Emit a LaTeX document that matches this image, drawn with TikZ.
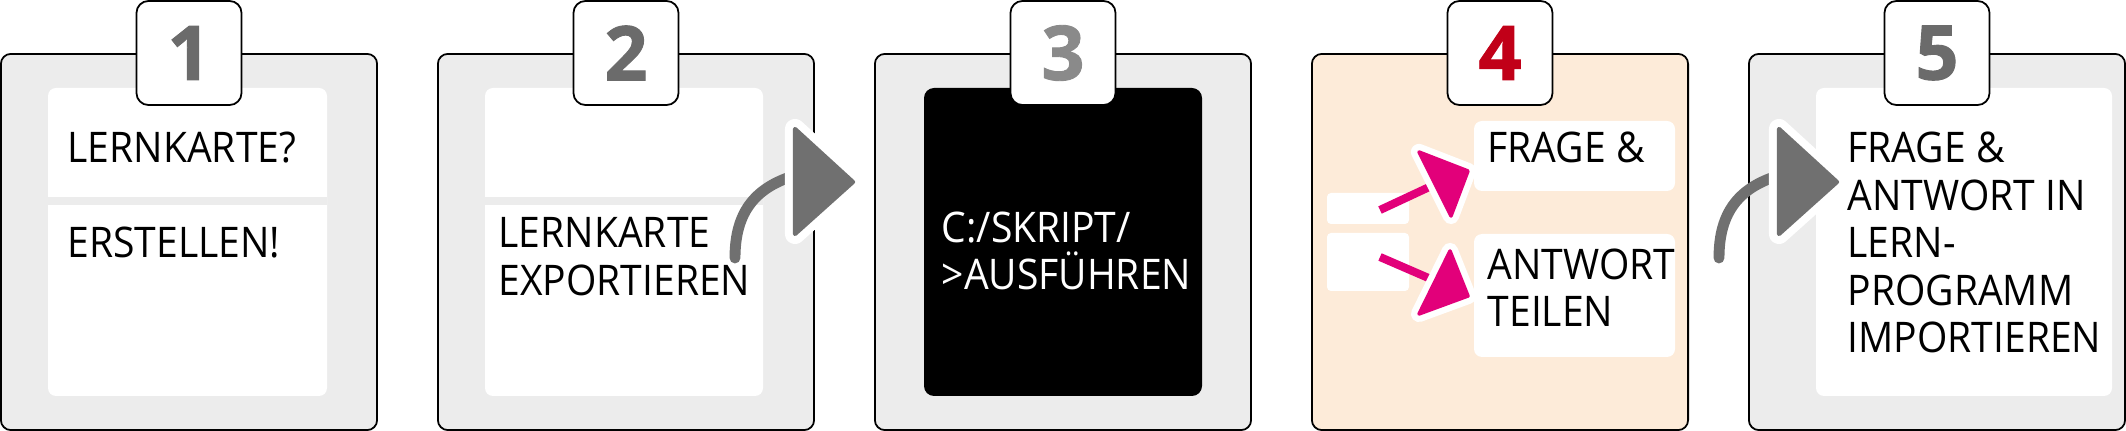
\documentclass[tikz,border=0pt]{standalone}
\usepackage{fontspec}
\setmainfont{Open Sans}[FakeStretch=0.925]
\newfontfamily\numfont{Open Sans}[BoldFeatures={FakeBold=1.2}]
\definecolor{fondo}{HTML}{ECECEC}
\definecolor{melocoton}{HTML}{FDEBD9}
\definecolor{grisnum}{HTML}{6B6B6B}
\definecolor{grisclaro}{HTML}{8A8A8A}
\definecolor{rojonum}{HTML}{C10018}
\definecolor{magenta}{HTML}{E2007A}
\definecolor{flecha}{HTML}{707070}
\tikzset{
  panel/.style={draw=black, line width=0.5pt, rounded corners=0.1cm, minimum width=3.76cm, minimum height=3.76cm},
  ficha/.style={draw=black, fill=white, line width=0.5pt, rounded corners=0.12cm, minimum width=1.05cm, minimum height=1.04cm, inner sep=0, font=\numfont\fontsize{21.5}{21.5}\selectfont\bfseries},
  tarjeta/.style={fill=white, rounded corners=0.08cm},
  texto/.style={font=\fontsize{12}{13.5}\selectfont, inner sep=0, anchor=base west},
  halo/.style={draw=white, fill=white, line join=round},
}
\begin{document}
\begin{tikzpicture}[x=0.01cm, y=-0.01cm]
    \useasboundingbox (0,0) rectangle (2126,431);

    % Paneles
    \foreach \i/\c in {1/fondo, 2/fondo, 3/fondo, 4/melocoton, 5/fondo}
        \node[panel, fill=\c] (p\i) at ({189+437*(\i-1)}, 242) {};

    % Tarjetas interiores
    \fill[tarjeta] (48,88) rectangle (327,396);
    \fill[fondo] (48,197) rectangle (327,205); % Separador 1
    \fill[tarjeta] (485,88) rectangle (763,396);
    \fill[fondo] (485,197) rectangle (763,205); % Separador 2
    \fill[black, rounded corners=0.1cm] (924,88) rectangle (1202,396);
    \fill[tarjeta] (1816,88) rectangle (2112,396);

    % Panel 4: tarjetas partidas
    \fill[white, rounded corners=0.04cm] (1327,193) rectangle (1409,224);
    \fill[white, rounded corners=0.04cm] (1327,233) rectangle (1409,291);
    \fill[tarjeta] (1474,121) rectangle (1675,191);
    \fill[tarjeta] (1474,234) rectangle (1675,357);

    % Fichas con numeros
    \foreach \i/\c in {1/grisnum, 2/grisnum, 3/grisclaro, 4/rojonum, 5/grisnum}
        \node[ficha, text=\c] (f\i) at ({189+437*(\i-1)}, 53) {\i};

    % Textos
    \node[texto] (t1a) at (67,163) {LERNKARTE?};
    \node[texto] (t1b) at (67,258) {ERSTELLEN!};
    \node[texto] (t2a) at (498,248) {LERNKARTE};
    \node[texto] (t2b) at (498,296) {EXPORTIEREN};
    \node[texto, text=white] (t3a) at (941,243) {C:/SKRIPT/};
    \node[texto, text=white] (t3b) at (941,290) {>AUSFÜHREN};
    \node[texto] (t4a) at (1487,163) {FRAGE \&};
    \node[texto] (t4b) at (1487,280) {ANTWORT};
    \node[texto] (t4c) at (1487,327) {TEILEN};
    \foreach \t [count=\k] in {FRAGE \&, ANTWORT IN, LERN-, PROGRAMM, IMPORTIEREN}
        \node[texto] (t5\k) at (1847, {163+47.5*(\k-1)}) {\t};

    % Flechas grises entre pasos
    \foreach \n/\dx in {2/0, 5/984} {
        \coordinate (ini\n) at (735+\dx, 258);
        \coordinate (fin\n) at (800+\dx, 174);
        \draw[flecha, line width=3.1pt, line cap=round] (ini\n) .. controls (735+\dx,212) and (755+\dx,186) .. (fin\n);
        \draw[halo, line width=5.7pt] (795+\dx,129) -- (795+\dx,234) -- (853+\dx,182) -- cycle;
        \filldraw[flecha, line width=1.2pt, line join=round] (795+\dx,129) -- (795+\dx,234) -- (853+\dx,182) -- cycle;
    }

    % Flechas magenta del panel 4
    \coordinate (a1) at (1380,210);
    \coordinate (b1) at (1440,182);
    \coordinate (a2) at (1380,257);
    \coordinate (b2) at (1440,283);
    \draw[magenta, line width=2.3pt] (a1) -- (b1);
    \draw[magenta, line width=2.3pt] (a2) -- (b2);
    \draw[halo, line width=4.6pt] (1419,152) -- (1468,171) -- (1451,216) -- cycle;
    \filldraw[magenta, line width=1pt, line join=round] (1419,152) -- (1468,171) -- (1451,216) -- cycle;
    \draw[halo, line width=4.6pt] (1450,251) -- (1468,296) -- (1419,314) -- cycle;
    \filldraw[magenta, line width=1pt, line join=round] (1450,251) -- (1468,296) -- (1419,314) -- cycle;
\end{tikzpicture}
\end{document}
